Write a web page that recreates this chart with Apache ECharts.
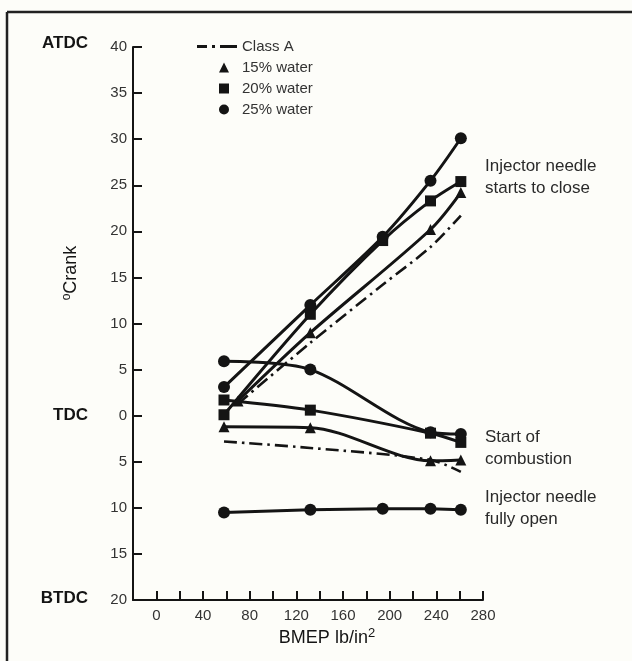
<!DOCTYPE html>
<html>
<head>
<meta charset="utf-8">
<script src="https://cdn.jsdelivr.net/npm/echarts/dist/echarts.min.js"></script>
<style>
  html, body { margin: 0; padding: 0; background: #fdfdf9; }
  #chart { width: 632px; height: 661px; }
</style>
</head>
<body>
<div id="chart"></div>
<script>
// BMEP (lb/in^2) and crank angle (degrees, + = ATDC, - = BTDC) for each curve

// Injector needle starts to close
const classACloseBmep = [70, 132, 194, 235, 261];
const classACloseDeg  = [1.3, 7.9, 14.2, 18.3, 21.7];
const water15CloseBmep = [70, 132, 235, 261];
const water15CloseDeg  = [1.6, 9.0, 20.2, 24.2];
const water20CloseBmep = [58, 132, 194, 235, 261];
const water20CloseDeg  = [0.1, 11.0, 19.0, 23.3, 25.4];
const water25CloseBmep = [58, 132, 194, 235, 261];
const water25CloseDeg  = [3.1, 12.0, 19.4, 25.5, 30.1];

// Start of combustion
const classAStartBmep = [58, 132, 235, 261];
const classAStartDeg  = [-2.8, -3.5, -4.8, -6.1];
const water15StartBmep = [58, 132, 235, 261];
const water15StartDeg  = [-1.2, -1.3, -4.9, -4.8];
const water20StartBmep = [58, 132, 235, 261];
const water20StartDeg  = [1.7, 0.6, -1.9, -2.9];
const water25StartBmep = [58, 132, 235, 261];
const water25StartDeg  = [5.9, 5.0, -1.8, -2.0];

// Injector needle fully open
const fullyOpenBmep = [58, 132, 194, 235, 261];
const fullyOpenDeg  = [-10.5, -10.2, -10.1, -10.1, -10.2];

// Axis ranges
const bmepMin = -20, bmepMax = 280, bmepStep = 20, bmepLabelStep = 40;
const degMin = -20, degMax = 40, degStep = 5;

const legendNames = ['Class A', '15% water', '20% water', '25% water'];

const INK = '#141414';
const FONT = '"Liberation Sans", Arial, sans-serif';

function pairs(xs, ys) { return xs.map((x, i) => [x, ys[i]]); }

function curve(name, xs, ys, symbol, size, extra) {
  return Object.assign({
    name: name,
    type: 'line',
    data: pairs(xs, ys),
    symbol: symbol,
    symbolSize: size,
    smooth: 0.3,
    lineStyle: { color: INK, width: 3 },
    itemStyle: { color: INK },
    emphasis: { disabled: true }
  }, extra || {});
}

const dashDot = { color: INK, width: 2.6, type: [13, 5, 2.5, 5] };

const chart = echarts.init(document.getElementById('chart'), null, { renderer: 'canvas' });

chart.setOption({
  animation: false,
  backgroundColor: '#fdfdf9',
  grid: { left: 133, right: 149, top: 47, bottom: 61, containLabel: false, outerBoundsMode: 'none' },
  xAxis: {
    type: 'value',
    min: bmepMin, max: bmepMax, interval: bmepStep,
    axisLine: { show: true, onZero: false, lineStyle: { color: INK, width: 2 } },
    axisTick: { show: true, inside: true, length: 9, lineStyle: { color: INK, width: 2 } },
    splitLine: { show: false },
    axisLabel: {
      margin: 8, color: '#333', fontSize: 15, fontFamily: FONT,
      formatter: v => (v >= 0 && v % bmepLabelStep === 0) ? String(v) : ''
    }
  },
  yAxis: {
    type: 'value',
    min: degMin, max: degMax, interval: degStep,
    axisLine: { show: true, onZero: false, lineStyle: { color: INK, width: 2 } },
    axisTick: { show: true, inside: true, length: 9, lineStyle: { color: INK, width: 2 } },
    splitLine: { show: false },
    axisLabel: {
      margin: 6, color: '#333', fontSize: 15, fontFamily: FONT,
      formatter: v => String(Math.abs(v))
    }
  },
  legend: [
    {
      data: [{ name: legendNames[0], icon: 'path://M0,0H10V3H0Z M15,0H18V3H15Z M23,0H40V3H23Z' }],
      left: 192, top: 34, orient: 'vertical',
      itemWidth: 40, itemHeight: 3,
      selectedMode: false,
      textStyle: { color: '#333', fontSize: 15, fontFamily: FONT }
    },
    {
      data: [
        { name: legendNames[1], icon: 'triangle' },
        { name: legendNames[2], icon: 'rect' },
        { name: legendNames[3], icon: 'circle' }
      ],
      left: 214, top: 55, orient: 'vertical',
      itemWidth: 10, itemHeight: 10, itemGap: 6,
      selectedMode: false,
      textStyle: { color: '#333', fontSize: 15, fontFamily: FONT, padding: [0, 0, 0, 8] }
    }
  ],
  series: [
    curve(legendNames[0], classACloseBmep, classACloseDeg, 'none', 0, { lineStyle: dashDot }),
    curve(legendNames[0], classAStartBmep, classAStartDeg, 'none', 0, { lineStyle: dashDot }),
    curve(legendNames[1], water15CloseBmep, water15CloseDeg, 'triangle', 11),
    curve(legendNames[1], water15StartBmep, water15StartDeg, 'triangle', 11),
    curve(legendNames[2], water20CloseBmep, water20CloseDeg, 'rect', 11),
    curve(legendNames[2], water20StartBmep, water20StartDeg, 'rect', 11),
    curve(legendNames[3], water25CloseBmep, water25CloseDeg, 'circle', 12),
    curve(legendNames[3], water25StartBmep, water25StartDeg, 'circle', 12),
    curve(legendNames[3], fullyOpenBmep, fullyOpenDeg, 'circle', 12, { smooth: false })
  ],
  graphic: [
    // page frame
    { type: 'line', shape: { x1: 7, y1: 12, x2: 632, y2: 12 }, style: { stroke: '#222', lineWidth: 2.5 } },
    { type: 'line', shape: { x1: 7, y1: 12, x2: 7, y2: 661 }, style: { stroke: '#222', lineWidth: 2.5 } },
    // crank position markers
    { type: 'text', x: 88, y: 43, style: { text: 'ATDC', fill: INK, font: 'bold 17px ' + FONT, textAlign: 'right', textVerticalAlign: 'middle' } },
    { type: 'text', x: 88, y: 415, style: { text: 'TDC', fill: INK, font: 'bold 17px ' + FONT, textAlign: 'right', textVerticalAlign: 'middle' } },
    { type: 'text', x: 88, y: 598, style: { text: 'BTDC', fill: INK, font: 'bold 17px ' + FONT, textAlign: 'right', textVerticalAlign: 'middle' } },
    // axis titles
    {
      type: 'text', x: 71, y: 273, rotation: Math.PI / 2,
      style: {
        text: '{s|o}{m|Crank}', textAlign: 'center', textVerticalAlign: 'middle', fill: INK,
        rich: {
          s: { fontSize: 12, fontFamily: FONT, verticalAlign: 'top', fill: INK, padding: [0, 0, 8, 0] },
          m: { fontSize: 18, fontFamily: FONT, fill: INK }
        }
      }
    },
    {
      type: 'text', x: 327, y: 638,
      style: {
        text: '{m|BMEP lb/in}{s|2}', textAlign: 'center', textVerticalAlign: 'middle', fill: INK,
        rich: {
          m: { fontSize: 18, fontFamily: FONT, fill: INK },
          s: { fontSize: 13, fontFamily: FONT, fill: INK, padding: [0, 0, 10, 0] }
        }
      }
    },
    // curve group annotations
    { type: 'text', x: 485, y: 155, style: { text: 'Injector needle\nstarts to close', fill: '#2a2a2a', font: '17px ' + FONT, lineHeight: 22 } },
    { type: 'text', x: 485, y: 426, style: { text: 'Start of\ncombustion', fill: '#2a2a2a', font: '17px ' + FONT, lineHeight: 22 } },
    { type: 'text', x: 485, y: 486, style: { text: 'Injector needle\nfully open', fill: '#2a2a2a', font: '17px ' + FONT, lineHeight: 22 } }
  ]
});
</script>
</body>
</html>
